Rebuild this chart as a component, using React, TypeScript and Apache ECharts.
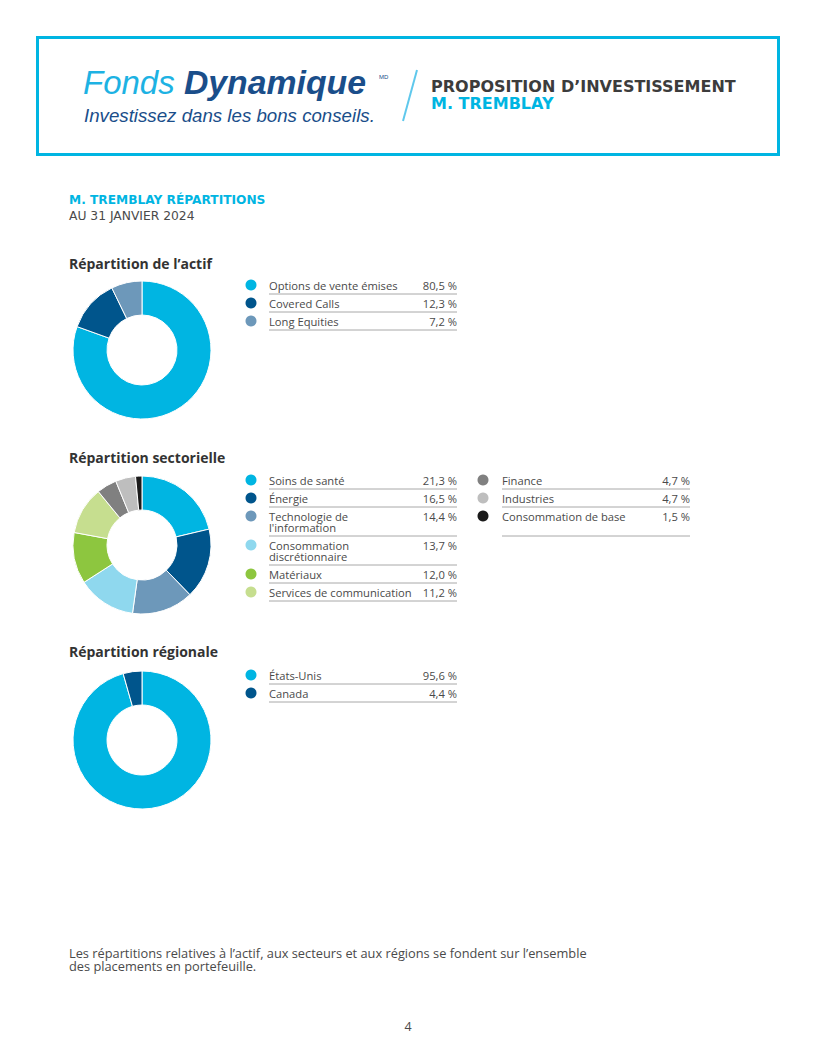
import React, { useEffect, useRef } from "react";
import * as echarts from "echarts";

// ---- Data ----
const assetLabels = ["Options de vente émises", "Covered Calls", "Long Equities"];
const assetValues = [80.5, 12.3, 7.2];
const assetColors = ["#00B5E2", "#00558C", "#6D98BA"];

const sectorLabels = [
  "Soins de santé",
  "Énergie",
  "Technologie de\nl'information",
  "Consommation\ndiscrétionnaire",
  "Matériaux",
  "Services de communication",
  "Finance",
  "Industries",
  "Consommation de base",
];
const sectorValues = [21.3, 16.5, 14.4, 13.7, 12.0, 11.2, 4.7, 4.7, 1.5];
const sectorColors = [
  "#00B5E2",
  "#00558C",
  "#6D98BA",
  "#8FD8EE",
  "#8DC63F",
  "#C6DE8F",
  "#808080",
  "#BEBEBE",
  "#1A1A1A",
];

const regionLabels = ["États-Unis", "Canada"];
const regionValues = [95.6, 4.4];
const regionColors = ["#00B5E2", "#00558C"];

const footnoteLines = [
  "Les répartitions relatives à l’actif, aux secteurs et aux régions se fondent sur l’ensemble",
  "des placements en portefeuille.",
];

const FONT = "'Open Sans', 'Noto Sans', sans-serif";
const TXT = "#4A4A4A";

const fmt = (v: number) => v.toFixed(1).replace(".", ",") + " %";

function pieSeries(labels: string[], values: number[], colors: string[], cy: number) {
  return {
    type: "pie",
    center: [142, cy],
    radius: [35, 69],
    startAngle: 90,
    clockwise: true,
    silent: true,
    label: { show: false },
    labelLine: { show: false },
    itemStyle: { borderColor: "#ffffff", borderWidth: 1 },
    data: labels.map((l, i) => ({
      name: l.replace("\n", " "),
      value: values[i],
      itemStyle: { color: colors[i] },
    })),
  };
}

function text(x: number, y: number, t: string, font: string, fill: string, align = "left") {
  return {
    type: "text",
    x,
    y,
    style: { text: t, font, fill, textAlign: align, textVerticalAlign: "middle" },
  };
}

const LEG_FONT = `11.2px ${FONT}`;

function legendColumn(
  labels: string[],
  values: number[],
  colors: string[],
  startY: number,
  dotX: number,
  textX: number,
  rightX: number,
  geometry?: { cy: number; sep: number }[]
) {
  const els: any[] = [];
  const geo: { cy: number; sep: number }[] = [];
  let cy = startY;
  labels.forEach((l, i) => {
    const lines = l.split("\n");
    let rowCy = cy;
    let sep = cy + 9 + (lines.length - 1) * 11;
    if (geometry && geometry[i]) {
      rowCy = geometry[i].cy;
      sep = geometry[i].sep;
    }
    geo.push({ cy: rowCy, sep });
    els.push({
      type: "circle",
      shape: { cx: dotX, cy: rowCy, r: 5.5 },
      style: { fill: colors[i] },
    });
    lines.forEach((ln, k) => {
      els.push(text(textX, rowCy + k * 11, ln, LEG_FONT, TXT));
    });
    els.push(text(rightX, rowCy, fmt(values[i]), LEG_FONT, TXT, "right"));
    els.push({
      type: "line",
      shape: { x1: textX, y1: sep, x2: rightX, y2: sep },
      style: { stroke: "#A8A8A8", lineWidth: 1 },
    });
    cy = sep + 9;
  });
  return { els, geo };
}

export default function App() {
  const ref = useRef<HTMLDivElement>(null);
  useEffect(() => {
    if (!ref.current) return;
    const chart = echarts.init(ref.current, undefined, { renderer: "svg" });

    const a = legendColumn(assetLabels, assetValues, assetColors, 285, 251, 269, 457);
    const s1 = legendColumn(
      sectorLabels.slice(0, 6),
      sectorValues.slice(0, 6),
      sectorColors.slice(0, 6),
      480,
      251,
      269,
      457
    );
    const s2 = legendColumn(
      sectorLabels.slice(6),
      sectorValues.slice(6),
      sectorColors.slice(6),
      480,
      483,
      502,
      690,
      s1.geo.slice(0, 3)
    );
    const r = legendColumn(regionLabels, regionValues, regionColors, 675, 251, 269, 457);

    const graphic: any[] = [
      {
        type: "rect",
        shape: { x: 37.5, y: 37.5, width: 741, height: 117 },
        style: { fill: "none", stroke: "#00B5E2", lineWidth: 3 },
      },
      {
        type: "text",
        x: 83,
        y: 99,
        style: {
          text: "{a|Fonds }{b|Dynamique}",
          textVerticalAlign: "bottom",
          rich: {
            a: { font: `italic 33px 'Liberation Sans', Arial, sans-serif`, fill: "#1DB2E3" },
            b: { font: `italic bold 33.8px 'Liberation Sans', Arial, sans-serif`, fill: "#1A4E8A" },
          },
        },
      },
      text(379, 77, "MD", `6px 'Liberation Sans', sans-serif`, "#1A4E8A"),
      text(84, 115, "Investissez dans les bons conseils.", `italic 18.7px 'Liberation Sans', Arial, sans-serif`, "#1A4E8A"),
      {
        type: "line",
        shape: { x1: 403, y1: 121, x2: 417, y2: 70 },
        style: { stroke: "#5FC8EC", lineWidth: 2 },
      },
      text(431, 86, "PROPOSITION D’INVESTISSEMENT", `bold 16px 'DejaVu Sans', sans-serif`, "#3C3C3C"),
      text(431, 103, "M. TREMBLAY", `bold 16px 'DejaVu Sans', sans-serif`, "#00B5E2"),
      text(69, 200, "M. TREMBLAY RÉPARTITIONS", `bold 12.2px 'DejaVu Sans', sans-serif`, "#00B5E2"),
      text(69, 216, "AU 31 JANVIER 2024", `12.3px 'DejaVu Sans', sans-serif`, TXT),
      text(69, 263, "Répartition de l’actif", `bold 14px ${FONT}`, "#333333"),
      text(69, 457, "Répartition sectorielle", `bold 14px ${FONT}`, "#333333"),
      text(69, 651, "Répartition régionale", `bold 14px ${FONT}`, "#333333"),
      ...footnoteLines.map((ln, k) => text(69, 953 + k * 13, ln, `12.8px ${FONT}`, TXT)),
      text(408, 1026, "4", `12.5px ${FONT}`, TXT, "center"),
      ...a.els,
      ...s1.els,
      ...s2.els,
      ...r.els,
    ];

    chart.setOption({
      animation: false,
      backgroundColor: "#ffffff",
      series: [
        pieSeries(assetLabels, assetValues, assetColors, 350),
        pieSeries(sectorLabels, sectorValues, sectorColors, 545),
        pieSeries(regionLabels, regionValues, regionColors, 740),
      ],
      graphic,
    });
    return () => chart.dispose();
  }, []);
  return (
    <div
      ref={ref}
      style={{ position: "absolute", left: 0, top: 0, width: 816, height: 1055 }}
    />
  );
}
